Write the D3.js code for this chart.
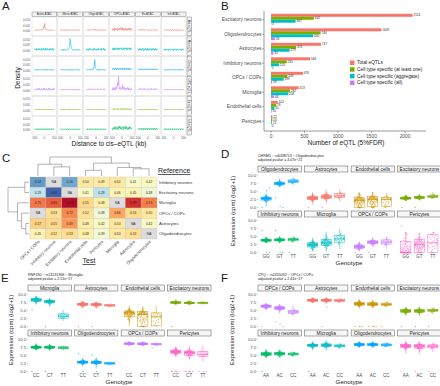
<!DOCTYPE html>
<html>
<head>
<meta charset="utf-8">
<script src="https://cdn.jsdelivr.net/npm/d3@7"></script>
<style>
  body { margin: 0; background: #fff; }
  svg { display: block; font-family: "Liberation Sans", Arial, sans-serif; }
</style>
</head>
<body>
<script>
// ---------- panel A : density of eQTL around ATAC peaks
const aCols = ["Astro ATAC", "Micro ATAC", "Oligo ATAC", "OPCs ATAC", "Ex ATAC", "Inh ATAC"];
const aRows = ["Ast eQTL", "Mic eQTL", "Oli eQTL", "OPC eQTL", "Ex eQTL", "Inh eQTL"];
const aXTicks = [-500, 0, 500];
const aYTicks = [0, 0.005, 0.01];
// one char per grid point (-500..500 kb), base 36, unit = 0.0005
const aTraces = [
  ["21323223122322342586e6422322132232123212", "2132212322312322132232123312232132212321", "2232312243223232342323122321322323122312",
   "3152416253415263547262514362415253624153", "2232132342231223323231223212332132231223", "2123221322312232132212321322312232122132"],
  ["3242513425243152435242513524314253425132", "2132231322312243359mk9533213223122313221", "3142413524234142534241352423415243524132",
   "4252625364253625463524362546352645362534", "3142524135241425341524135241425314253142", "3241324231423124324132423142312432413242"],
  ["2132231223212322312321322312232132213221", "2232123212322312232132213221232232132212", "2132232132234235ak5432231322312232132212",
   "3243524352435243523425342534253425342435", "2332423324233242332423324233242332423324", "2232132213232123221323213223213223121322"],
  ["2132423152413242315241324231524132423152", "2132231223212322312321322312232132213221", "2232324232243223423232243223423223242322",
   "31526241735e9p8364263a526314253615241325", "2323424232342423234242323424232342423234", "2232132213232123221323213223213223121322"],
  ["2122121221212212122121221212212122121221", "1212212122121221212212122121221212212122", "2121221212212122121221212212122121221212",
   "2323242323242323242323242323242323242323", "2122121221212212122121221212212122121221", "1212212122121221212212122121221212212122"],
  ["2132313231323132313231323132313231323132", "2132213221322132213221322132213221322132", "2231322313223132231322313223132231322313",
   "3142635274156284725364174528364152736425", "2132423142314231423142314231423142314231", "2132313231323132313231323132313231323132"]
];

// ---------- panel B : number of eQTL
const bCategories = ["Excitatory neurons", "Oligodendrocytes", "Astrocytes", "Inhibitory neurons",
                     "OPCs / COPs", "Microglia", "Endothelial cells", "Pericytes"];
const bSeries = ["Total eQTLs", "Cell type specific (at least one)", "Cell type specific (aggregate)", "Cell type specific (all)"];
const bTotal      = [2114, 1649, 747, 584, 476, 413, 102, 22];
const bAtLeastOne = [640, 740, 376, 235, 244, 282, 78, 20];
const bAggregate  = [367, 630, 279, 120, 189, 258, 50, 13];
const bAll        = [3, 58, 35, 0, 18, 46, 10, 0];
const bTicks = [0, 500, 1000, 1500, 2000];

// ---------- panel C : replication heatmap
const cCols = ["OPCs / COPs", "Inhibitory neurons", "Excitatory neurons", "Endothelial cells",
               "Pericytes", "Microglia", "Astrocytes", "Oligodendrocytes"];
const cRows = ["Inhibitory neurons", "Excitatory neurons", "Microglia", "OPCs / COPs", "Astrocytes", "Oligodendrocytes"];
const cValues = [
  [0.14, null, 0.16, 0.50, 0.49, 0.50, 0.41, 0.42],
  [0.29, 0.06, null, 0.41, 0.28, 0.46, 0.45, 0.38],
  [0.75, 0.80, 0.97, 0.55, 0.48, null, 0.89, 0.74],
  [null, 0.53, 0.72, 0.52, 0.38, 0.66, 0.54, 0.50],
  [0.57, 0.55, 0.69, 0.48, 0.42, 0.50, null, 0.42],
  [0.45, 0.52, 0.53, 0.48, 0.39, 0.50, 0.53, null]
];
const cColTree = {h: 1, c: [
  {h: 0.62, c: ["OPCs / COPs", {h: 0.48, c: ["Inhibitory neurons", "Excitatory neurons"]}]},
  {h: 0.68, c: [{h: 0.3, c: ["Endothelial cells", "Pericytes"]},
                {h: 0.45, c: ["Microglia", {h: 0.38, c: ["Astrocytes", "Oligodendrocytes"]}]}]}
]};
const cRowTree = {h: 1, c: [
  {h: 0.2, c: ["Inhibitory neurons", "Excitatory neurons"]},
  {h: 0.55, c: ["Microglia", {h: 0.35, c: ["OPCs / COPs", {h: 0.15, c: ["Astrocytes", "Oligodendrocytes"]}]}]}
]};

// ---------- panels D, E, F : expression by genotype  [min, q1, median, q3, max]
const dFacets = ["Oligodendrocytes", "Astrocytes", "Endothelial cells", "Excitatory neurons",
                 "Inhibitory neurons", "Microglia", "OPCs / COPs", "Pericytes"];
const dGenos = ["GG", "GT", "TT"];
const dBoxes = [
  [[0.4, 2.3, 2.8, 3.2, 4.4], [6.3, 7.0, 7.4, 7.8, 9.0], [6.9, 7.7, 8.1, 8.5, 9.4]],
  [[0.8, 2.4, 2.9, 3.4, 4.8], [1.2, 2.8, 3.3, 3.9, 5.6], [1.8, 3.1, 3.6, 4.3, 5.8]],
  [[0, 0, 2.2, 3.2, 4.5], [0, 0.3, 2.5, 3.4, 4.8], [0, 0.4, 2.5, 3.2, 4.6]],
  [[2.0, 2.6, 2.9, 3.2, 4.0], [2.2, 2.8, 3.1, 3.4, 4.2], [2.7, 3.1, 3.4, 3.8, 4.8]],
  [[2.8, 3.5, 3.8, 4.1, 5.0], [2.8, 3.6, 3.9, 4.2, 5.2], [3.0, 3.6, 4.0, 4.4, 5.0]],
  [[0.2, 1.7, 2.4, 3.0, 4.6], [0.3, 2.1, 3.0, 4.0, 6.5], [1.0, 3.2, 4.2, 5.2, 7.3]],
  [[0.5, 1.3, 1.8, 2.3, 3.5], [1.8, 2.7, 3.2, 3.6, 4.8], [1.2, 2.6, 3.2, 3.9, 5.0]],
  [[0, 0, 0, 3.4, 6.0], [0, 0, 2.4, 4.0, 5.9], [0, 0, 3.0, 5.5, 6.2]]
];
const dOutliers = [
  [[0, 5.2, 6.0], [3.0, 0.3, 0], []], [[0], [0], []], [[], [], []], [[0], [0], []],
  [[6.8, 0, 0], [6.8, 0, 0], [0]], [[], [], []], [[0], [0], []], [[8.2], [], []]
];

const eFacets = ["Microglia", "Astrocytes", "Endothelial cells", "Excitatory neurons",
                 "Inhibitory neurons", "Oligodendrocytes", "OPCs / COPs", "Pericytes"];
const eGenos = ["CC", "CT", "TT"];
const eBoxes = [
  [[6.8, 7.8, 8.2, 8.6, 9.6], [6.0, 7.3, 7.7, 8.0, 8.8], [1.7, 2.6, 3.2, 3.9, 5.2]],
  [[5.6, 6.5, 6.9, 7.2, 8.0], [5.5, 6.4, 6.8, 7.1, 7.9], [5.8, 6.3, 6.5, 6.8, 7.3]],
  [[0, 3.0, 4.2, 4.8, 6.5], [0, 0, 3.7, 4.6, 6.2], [0, 0.2, 3.0, 4.2, 6.3]],
  [[6.6, 7.2, 7.4, 7.6, 8.5], [6.6, 7.1, 7.3, 7.5, 8.1], [6.8, 7.1, 7.3, 7.5, 7.8]],
  [[6.5, 7.2, 7.5, 7.8, 8.8], [6.3, 7.2, 7.5, 7.8, 8.6], [6.6, 7.0, 7.3, 7.6, 8.0]],
  [[1.5, 2.6, 2.9, 3.2, 4.2], [1.0, 2.5, 2.8, 3.2, 4.3], [2.0, 2.3, 2.5, 2.8, 3.1]],
  [[7.8, 8.4, 8.6, 8.8, 9.2], [7.8, 8.3, 8.5, 8.8, 9.1], [7.9, 8.2, 8.4, 8.7, 9.0]],
  [[4.5, 5.6, 6.1, 6.6, 7.5], [3.8, 5.0, 5.8, 6.3, 8.0], [3.0, 4.6, 5.3, 6.2, 8.0]]
];
const eOutliers = [
  [[5.2], [0], []], [[0], [0], []], [[], [], []], [[0], [], []],
  [[0], [0], []], [[5.5, 0], [5.0, 0], []], [[], [], [7.3]], [[0, 0, 0, 0, 0, 0], [0, 0, 0, 0, 0, 0], [0, 0, 0]]
];

const fFacets = ["OPCs / COPs", "Astrocytes", "Endothelial cells", "Excitatory neurons",
                 "Inhibitory neurons", "Microglia", "Oligodendrocytes", "Pericytes"];
const fGenos = ["AA", "AC", "CC"];
const fBoxes = [
  [[5.0, 5.9, 6.3, 6.6, 7.3], [4.0, 5.3, 5.7, 6.1, 7.0], [3.2, 4.0, 4.5, 5.0, 6.5]],
  [[7.2, 7.8, 8.1, 8.4, 8.8], [7.0, 7.8, 8.1, 8.4, 8.9], [7.4, 7.7, 8.0, 8.3, 8.7]],
  [[5.5, 6.6, 7.0, 7.4, 8.5], [5.5, 6.5, 6.9, 7.3, 8.3], [5.8, 6.5, 6.8, 7.2, 7.8]],
  [[3.2, 4.4, 4.8, 5.2, 6.0], [3.3, 4.4, 4.8, 5.2, 6.2], [3.8, 4.6, 5.0, 5.3, 6.0]],
  [[4.0, 5.0, 5.4, 5.8, 7.0], [4.2, 5.1, 5.5, 5.9, 6.8], [4.5, 5.1, 5.4, 5.7, 6.2]],
  [[6.5, 7.7, 8.1, 8.4, 9.5], [6.5, 7.7, 8.1, 8.5, 9.6], [7.0, 7.6, 7.9, 8.2, 8.8]],
  [[7.3, 8.0, 8.3, 8.6, 9.4], [7.3, 8.0, 8.3, 8.6, 9.3], [7.5, 7.9, 8.2, 8.5, 9.0]],
  [[5.5, 7.4, 7.9, 8.3, 9.5], [5.5, 7.2, 7.8, 8.3, 9.4], [6.0, 7.3, 7.8, 8.2, 9.0]]
];
const fOutliers = [
  [[0], [1.5, 0.8, 0], []], [[], [0, 6.0], []], [[0, 0, 0, 0], [0, 0, 0, 0], [0]], [[0], [0], [0]],
  [[0], [], []], [[0], [], []], [[], [], []], [[], [0], [0]]
];
const exprTicks = [0, 2.5, 5, 7.5, 10];

// jitter layout for the point clouds (u: across, v: in box half-widths)
const cloudBase = [[-0.9,0.1],[0.8,-0.2],[-0.5,0.4],[0.3,0.6],[-0.2,-0.7],[0.6,0.9],[-0.7,-0.5],[0.1,0.2],[0.9,0.3],[-0.3,-0.1],
  [0.5,-0.6],[-0.8,0.7],[0.2,-1.0],[-0.6,1.1],[0.7,0.0],[-0.1,0.8],[0.4,-0.3],[-0.4,-0.9],[0.0,-0.4],[0.85,0.5],
  [-0.95,-0.3],[0.15,1.3],[-0.25,-1.3],[0.45,1.6],[-0.55,-1.6],[0.35,0.35],[-0.35,0.55],[0.65,-0.85],[-0.15,-0.55],[0.05,0.95],
  [0.25,-1.9],[-0.3,2.0],[0.1,-2.3],[-0.05,2.4],[0.55,0.15],[-0.65,0.25],[0.75,-0.45],[-0.85,-0.05],[0.95,-0.15],[-0.45,-0.25]];
// mirrored copy to fill the clouds
const cloud = cloudBase.concat(cloudBase.map(([u, v]) => [-u * 0.92, v * 0.8 + 0.05]));

const cellColors = {
  "Astrocytes": "#F8766D", "Endothelial cells": "#CD9600", "Excitatory neurons": "#7CAE00",
  "Inhibitory neurons": "#00BE67", "Microglia": "#00BFC4", "Oligodendrocytes": "#00A9FF",
  "OPCs / COPs": "#C77CFF", "Pericytes": "#FF61CC"
};
const aColors = ["#F8766D", "#00BFC4", "#00A9FF", "#C77CFF", "#7CAE00", "#00BE67"];
const bColors = ["#F8766D", "#7CAE00", "#00BFC4", "#C77CFF"];

const svg = d3.select("body").append("svg").attr("width", 440).attr("height", 386);

function txt(g, x, y, s, size, anchor = "start", fill = "#1a1a1a") {
  return g.append("text").attr("x", x).attr("y", y).attr("font-size", size)
    .attr("text-anchor", anchor).attr("fill", fill).text(s);
}

// panel letters
[["A", 2, 10], ["B", 221, 10], ["C", 2, 162], ["D", 221, 158], ["E", 1, 282], ["F", 221, 282]]
  .forEach(([l, x, y]) => txt(svg, x, y, l, 11.5));

// ================= A
const gA = svg.append("g");
const aColBand = d3.scaleBand().domain(aCols).range([32, 186]).paddingInner(0.04);
const aRowBand = d3.scaleBand().domain(aRows).range([17, 135]).paddingInner(0.05);
const aW = aColBand.bandwidth(), aH = aRowBand.bandwidth();
const ax = d3.scaleLinear().domain([-620, 620]).range([0, aW]);
const ay = d3.scaleLinear().domain([-0.004, 0.0125]).range([aH, 0]);

aCols.forEach(c => {
  gA.append("rect").attr("x", aColBand(c)).attr("y", 12).attr("width", aW).attr("height", 4.5)
    .attr("fill", "#f2f2f2").attr("stroke", "#666").attr("stroke-width", 0.4);
  txt(gA, aColBand(c) + aW / 2, 15.4, c, 3, "middle", "#333");
  aXTicks.forEach(t => txt(gA, aColBand(c) + ax(t), 139, t, 2.8, "middle", "#555"));
});
aRows.forEach((r, ri) => {
  const y0 = aRowBand(r);
  gA.append("rect").attr("x", 187).attr("y", y0).attr("width", 4.5).attr("height", aH)
    .attr("fill", "#f2f2f2").attr("stroke", "#666").attr("stroke-width", 0.4);
  txt(gA, 0, 0, r, 3, "middle", "#333")
    .attr("transform", `translate(${188.3},${y0 + aH / 2}) rotate(90)`);
  aYTicks.forEach(t => txt(gA, 30, y0 + ay(t) + 1, t.toFixed(3), 2.8, "end", "#555"));
  aCols.forEach((c, ci) => {
    const x0 = aColBand(c);
    gA.append("rect").attr("x", x0).attr("y", y0).attr("width", aW).attr("height", aH)
      .attr("fill", "#fff").attr("stroke", "#ccc").attr("stroke-width", 0.4);
    const vals = aTraces[ri][ci].split("").map(ch => parseInt(ch, 36) * 0.0005);
    const dx = d3.scaleLinear().domain([0, vals.length - 1]).range([-500, 500]);
    gA.append("path").datum(vals)
      .attr("transform", `translate(${x0},${y0})`)
      .attr("fill", "none").attr("stroke", aColors[ri]).attr("stroke-width", 0.55)
      .attr("d", d3.line().x((d, i) => ax(dx(i))).y(d => ay(d)));
  });
});
txt(gA, 109, 146, "Distance to cis\u2013eQTL (kb)", 6.5, "middle");
txt(gA, 0, 0, "Density", 6.5, "middle").attr("transform", "translate(20,78) rotate(-90)");

// ================= B
const gB = svg.append("g");
const bx = d3.scaleLinear().domain([0, 2000]).range([271, 405]);
const by = d3.scaleBand().domain(bCategories).range([12.5, 128.5]);
const bInner = d3.scaleBand().domain(bSeries).range([1.3, by.bandwidth() - 1.3]);
const bData = [bTotal, bAtLeastOne, bAggregate, bAll];

bCategories.forEach((cat, i) => {
  bSeries.forEach((s, k) => {
    const v = bData[k][i];
    const y = by(cat) + bInner(s);
    gB.append("rect").attr("x", bx(0)).attr("y", y).attr("width", bx(v) - bx(0))
      .attr("height", bInner.bandwidth()).attr("fill", bColors[k]);
    txt(gB, bx(v) + 0.8, y + bInner.bandwidth() - 0.3, v, 3.2, "start", "#333");
  });
  const cy = by(cat) + by.bandwidth() / 2;
  gB.append("line").attr("x1", 262).attr("x2", 264).attr("y1", cy).attr("y2", cy).attr("stroke", "#333").attr("stroke-width", 0.4);
  txt(gB, 261.5, cy + 1.7, cat, 4.8, "end", "#4d4d4d");
});
gB.append("line").attr("x1", 264).attr("x2", 264).attr("y1", 11).attr("y2", 131).attr("stroke", "#333").attr("stroke-width", 0.5);
gB.append("line").attr("x1", 264).attr("x2", 426).attr("y1", 131).attr("y2", 131).attr("stroke", "#333").attr("stroke-width", 0.5);
bTicks.forEach(t => {
  gB.append("line").attr("x1", bx(t)).attr("x2", bx(t)).attr("y1", 131).attr("y2", 133).attr("stroke", "#333").attr("stroke-width", 0.4);
  txt(gB, bx(t), 137.5, t, 4.8, "middle", "#4d4d4d");
});
txt(gB, 346, 145, "Number of eQTL (5%FDR)", 6.5, "middle");
bSeries.forEach((s, k) => {
  const y = 60.5 + k * 6.7;
  gB.append("rect").attr("x", 350).attr("y", y).attr("width", 4.5).attr("height", 4.5).attr("fill", bColors[k]);
  txt(gB, 357, y + 3.8, s, 4.8, "start", "#1a1a1a");
});

// ================= C
const gC = svg.append("g");
const cx = d3.scaleBand().domain(cCols).range([30, 157]);
const cy = d3.scaleBand().domain(cRows).range([177, 239]);
const cColor = d3.scaleDiverging(t => d3.interpolateRdYlBu(1 - t)).domain([0, 0.42, 1]);

cRows.forEach((r, i) => cCols.forEach((c, j) => {
  const v = cValues[i][j];
  gC.append("rect").attr("x", cx(c)).attr("y", cy(r)).attr("width", cx.bandwidth()).attr("height", cy.bandwidth())
    .attr("fill", v === null ? "#dcdcdc" : cColor(v)).attr("stroke", "#b8b8b8").attr("stroke-width", 0.3);
  txt(gC, cx(c) + cx.bandwidth() / 2, cy(r) + cy.bandwidth() / 2 + 1.1, v === null ? "NA" : v.toFixed(2), 3.2, "middle", "#222");
}));
cRows.forEach(r => txt(gC, 159, cy(r) + cy.bandwidth() / 2 + 1.5, r, 4.2, "start", "#333"));
cCols.forEach(c => txt(gC, 0, 0, c, 4.2, "end", "#333")
  .attr("transform", `translate(${cx(c) + cx.bandwidth() / 2 + 2},${242}) rotate(-45)`));

function dendro(node, pos, hs, horiz) {
  if (typeof node === "string") return {p: pos(node), h: 0};
  const a = dendro(node.c[0], pos, hs, horiz), b = dendro(node.c[1], pos, hs, horiz);
  const d = horiz
    ? `M${hs(a.h)},${a.p}H${hs(node.h)}V${b.p}H${hs(b.h)}`
    : `M${a.p},${hs(a.h)}V${hs(node.h)}H${b.p}V${hs(b.h)}`;
  gC.append("path").attr("d", d).attr("fill", "none").attr("stroke", "#555").attr("stroke-width", 0.45);
  return {p: (a.p + b.p) / 2, h: node.h};
}
dendro(cColTree, c => cx(c) + cx.bandwidth() / 2, d3.scaleLinear().domain([0, 1]).range([176, 157]), false);
dendro(cRowTree, r => cy(r) + cy.bandwidth() / 2, d3.scaleLinear().domain([0, 1]).range([29, 8]), true);

txt(gC, 158, 173, "Reference", 7, "start", "#1a1a1a").attr("text-decoration", "underline");
txt(gC, 89, 263, "Test", 7, "middle", "#1a1a1a").attr("text-decoration", "underline");

// ================= D, E, F
function facetPanel(o) {
  const g = svg.append("g");
  const cols = d3.scaleBand().domain(d3.range(4)).range([o.x0, o.x0 + 183]).paddingInner(0.07);
  const pw = cols.bandwidth();
  const stripH = 6, panelH = 37, rowStep = 45;
  const gx = d3.scalePoint().domain(o.genos).range([0, pw]).padding(0.6);
  const gy = d3.scaleLinear().domain([-0.6, 10.8]).range([panelH, 0]);
  const half = gx.step() * 0.375;

  txt(g, o.x0, o.y0 - 9, o.title, 3.6, "start", "#222");
  txt(g, o.x0, o.y0 - 4.6, o.pval, 3.6, "start", "#222");

  o.facets.forEach((f, i) => {
    const c = i % 4, r = Math.floor(i / 4);
    const px = cols(c), st = o.y0 + r * rowStep, py = st + stripH + 0.5;
    const col = cellColors[f];
    g.append("rect").attr("x", px).attr("y", st).attr("width", pw).attr("height", stripH)
      .attr("fill", "#f7f7f7").attr("stroke", "#555").attr("stroke-width", 0.5);
    txt(g, px + pw / 2, st + 4.6, f, 4.8, "middle", "#1a1a1a");

    if (c === 0) exprTicks.forEach(t => {
      txt(g, px - 1.8, py + gy(t) + 1.5, t.toFixed(1), 4.3, "end", "#4d4d4d");
      g.append("line").attr("x1", px - 1.2).attr("x2", px).attr("y1", py + gy(t)).attr("y2", py + gy(t))
        .attr("stroke", "#555").attr("stroke-width", 0.3);
    });
    if (r === 1) o.genos.forEach(gt =>
      txt(g, px + gx(gt), py + panelH + 3.6, gt, 4.5, "middle", "#4d4d4d"));

    const p = g.append("g").attr("transform", `translate(${px},${py})`);
    o.genos.forEach((gt, j) => {
      const [lo, q1, med, q3, hi] = o.boxes[i][j];
      const bx0 = gx(gt);
      const line = (x1, y1, x2, y2) => p.append("line").attr("x1", x1).attr("y1", y1).attr("x2", x2).attr("y2", y2)
        .attr("stroke", col).attr("stroke-width", 0.5);
      line(bx0, gy(lo), bx0, gy(q1));
      line(bx0, gy(q3), bx0, gy(hi));
      p.append("rect").attr("x", bx0 - half).attr("y", gy(q3)).attr("width", half * 2)
        .attr("height", Math.max(0.3, gy(q1) - gy(q3))).attr("fill", "none").attr("stroke", col).attr("stroke-width", 0.5);
      line(bx0 - half, gy(med), bx0 + half, gy(med)).attr("stroke-width", 0.8);

      cloud.slice(0, o.counts[j]).forEach(([u, v]) => {
        const val = Math.max(lo, Math.min(hi, med + v * (v < 0 ? med - q1 : q3 - med)));
        const spread = 1.05 * (1 - Math.min(Math.abs(v), 2) / 2.8);
        p.append("circle").attr("cx", bx0 + u * half * spread).attr("cy", gy(val)).attr("r", 0.75)
          .attr("fill", col).attr("fill-opacity", 0.5);
      });
      o.outs[i][j].forEach((val, k) => {
        p.append("circle").attr("cx", bx0 + cloud[(k * 7) % cloud.length][0] * half * 0.9).attr("cy", gy(val))
          .attr("r", 0.75).attr("fill", col).attr("fill-opacity", 0.6);
      });
    });
  });
  const bottom = o.y0 + rowStep + stripH + panelH;
  txt(g, o.x0 + 91, bottom + 11, "Genotype", 6.2, "middle");
  txt(g, 0, 0, "Expression (cpm) (log2+1)", 6, "middle")
    .attr("transform", `translate(${o.ytx},${o.y0 + rowStep}) rotate(-90)`);
}

facetPanel({x0: 258, y0: 166, ytx: 235, facets: dFacets, genos: dGenos, boxes: dBoxes, outs: dOutliers,
  counts: [80, 70, 26], title: "CHRM5 :: rs6038713 :: Oligodendrocytes", pval: "adjusted pvalue = 4.07e\u221221"});
facetPanel({x0: 28, y0: 285, ytx: 13, facets: eFacets, genos: eGenos, boxes: eBoxes, outs: eOutliers,
  counts: [80, 70, 20], title: "RNF180 :: rs13131368 :: Microglia", pval: "adjusted pvalue = 2.51e\u221217"});
facetPanel({x0: 258, y0: 285, ytx: 234, facets: fFacets, genos: fGenos, boxes: fBoxes, outs: fOutliers,
  counts: [80, 70, 26], title: "CPQ :: rs2455092 :: OPCs / COPs", pval: "adjusted pvalue = 2.41e\u221217"});
</script>
</body>
</html>
